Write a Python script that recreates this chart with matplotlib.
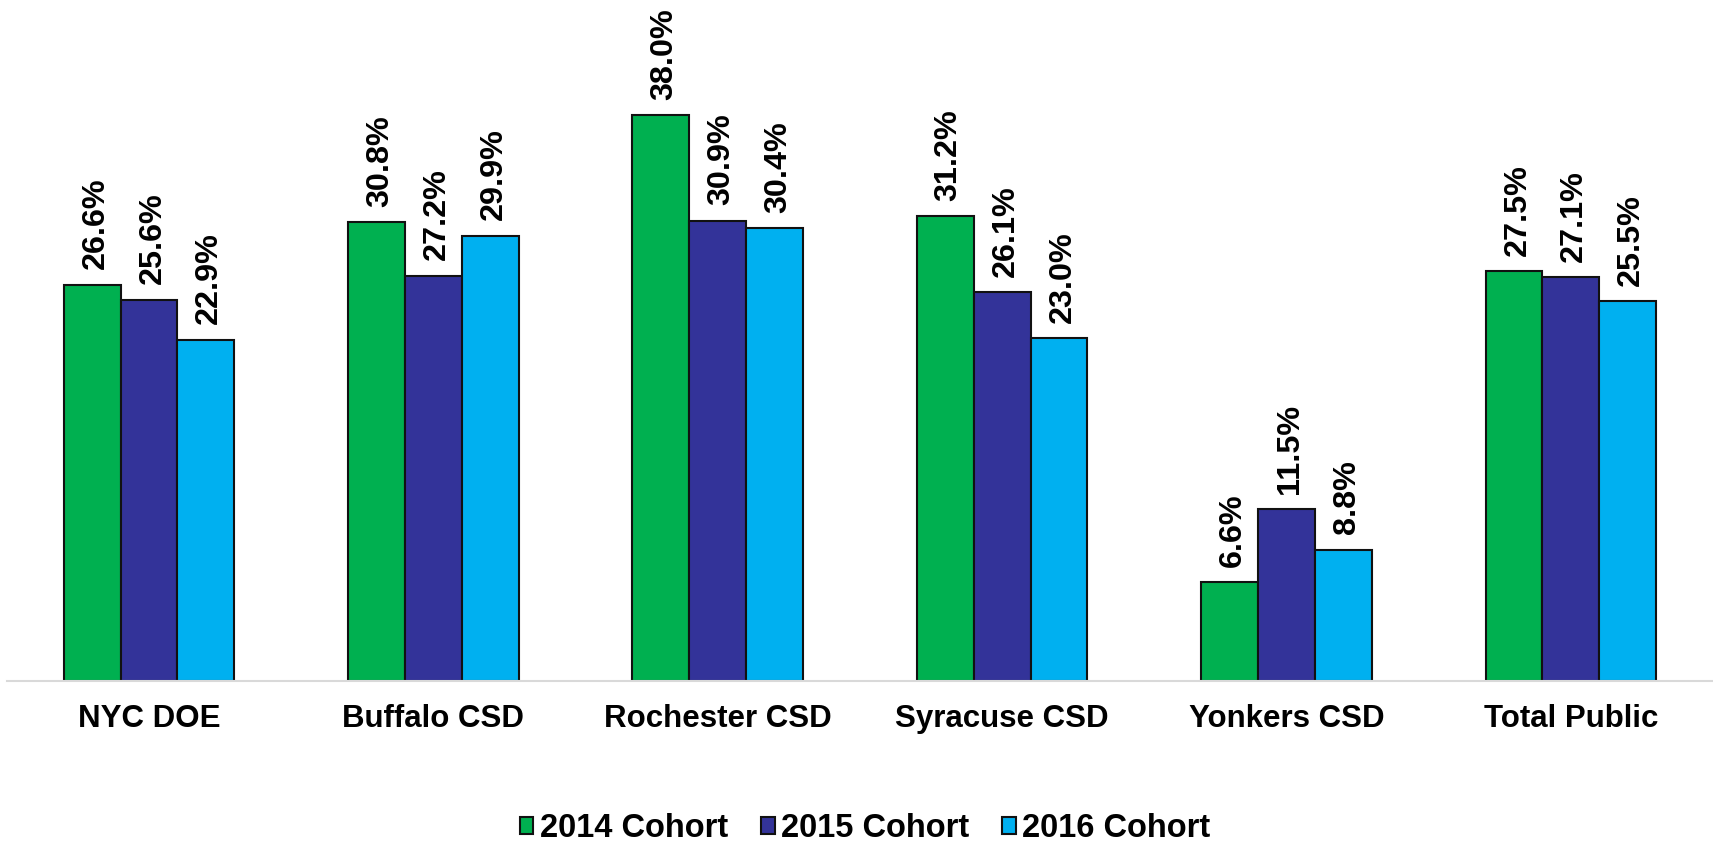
import matplotlib.pyplot as plt
import numpy as np

plt.rcParams['font.family'] = ['Liberation Sans', 'DejaVu Sans']

# Data
districts = ['NYC DOE', 'Buffalo CSD', 'Rochester CSD', 'Syracuse CSD', 'Yonkers CSD', 'Total Public']
cohorts = ['2014 Cohort', '2015 Cohort', '2016 Cohort']
rate_2014 = [26.6, 30.8, 38.0, 31.2, 6.6, 27.5]
rate_2015 = [25.6, 27.2, 30.9, 26.1, 11.5, 27.1]
rate_2016 = [22.9, 29.9, 30.4, 23.0, 8.8, 25.5]
colors = ['#00B050', '#333399', '#00B0F0']

fig = plt.figure(figsize=(17.13, 8.47), dpi=100)
ax = fig.add_axes([0.004, 0.1963, 0.996, 0.7032])

x = np.arange(len(districts))
width = 0.2
series = [rate_2014, rate_2015, rate_2016]

for i, (vals, col, lab) in enumerate(zip(series, colors, cohorts)):
    pos = x + (i - 1) * width
    ax.bar(pos, vals, width, color=col, edgecolor='#111111', linewidth=1.5,
           label=lab, zorder=3)
    for px, v in zip(pos, vals):
        ax.annotate(f'{v:.1f}%', (px, v), xytext=(2.5, 11), textcoords='offset points',
                    rotation=90, ha='center', va='bottom',
                    fontsize=23.3, fontweight='bold', color='black')

ax.set_xlim(-0.5, 5.5)
ax.set_ylim(0, 40)
ax.set_xticks(x)
ax.set_xticklabels(districts, fontsize=22.5, fontweight='bold')
ax.tick_params(axis='x', length=0, pad=17)
ax.set_yticks([])

for s in ['top', 'right', 'left']:
    ax.spines[s].set_visible(False)
ax.spines['bottom'].set_color('#D9D9D9')
ax.spines['bottom'].set_linewidth(1.5)
ax.spines['bottom'].set_zorder(4)

fig.legend(loc='center', bbox_to_anchor=(0.505, 0.022), ncol=3, frameon=False,
           prop={'size': 23.5, 'weight': 'bold'}, handlelength=0.42, handleheight=0.42,
           handletextpad=0.2, columnspacing=1.0, borderpad=0.1)

fig.savefig('out.png', dpi=100)
